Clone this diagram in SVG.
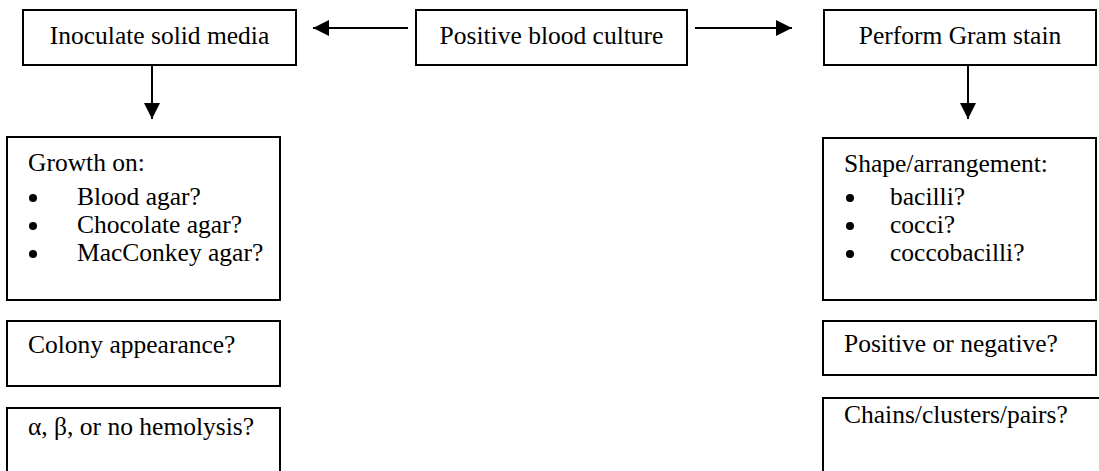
<svg xmlns="http://www.w3.org/2000/svg" width="1099" height="471" viewBox="0 0 1099 471">
<style>
.box{fill:#fff;stroke:#000;stroke-width:2}
.t{font-size:25.5px;fill:#000}
.c{text-anchor:middle}
.conn{stroke:#000;stroke-width:2;fill:none}
</style>
<defs>
<marker id="ah" viewBox="0 0 16 16" refX="16" refY="8" markerWidth="16" markerHeight="16" markerUnits="userSpaceOnUse" orient="auto">
<path d="M0,0 L16,8 L0,16 Z" fill="#000"/>
</marker>
</defs>
<rect width="1099" height="471" fill="#fff"/>
<g id="connectors">
<line class="conn" x1="408" y1="28" x2="313" y2="28" marker-end="url(#ah)"/>
<line class="conn" x1="695" y1="28" x2="792" y2="28" marker-end="url(#ah)"/>
<line class="conn" x1="152" y1="65" x2="152" y2="119" marker-end="url(#ah)"/>
<line class="conn" x1="968" y1="65" x2="968" y2="119" marker-end="url(#ah)"/>
</g>
<g font-family="Liberation Serif, DejaVu Serif, serif">
<g id="n-inoculate">
<rect class="box" x="23" y="10" width="273" height="55"/>
<text class="t c" x="159.5" y="44">Inoculate solid media</text>
</g>
<g id="n-positive">
<rect class="box" x="416" y="10" width="271" height="55"/>
<text class="t c" x="551.5" y="44">Positive blood culture</text>
</g>
<g id="n-gram">
<rect class="box" x="824" y="10" width="272" height="55"/>
<text class="t c" x="960" y="44">Perform Gram stain</text>
</g>
<g id="n-growth">
<rect class="box" x="7" y="137" width="273" height="163"/>
<text class="t" x="28" y="171">Growth on:</text>
<circle cx="33" cy="198" r="4"/>
<text class="t" x="77" y="205">Blood agar?</text>
<circle cx="33" cy="226" r="4"/>
<text class="t" x="77" y="233">Chocolate agar?</text>
<circle cx="33" cy="254" r="4"/>
<text class="t" x="77" y="261">MacConkey agar?</text>
</g>
<g id="n-colony">
<rect class="box" x="7" y="321" width="273" height="65"/>
<text class="t" x="28" y="353">Colony appearance?</text>
</g>
<g id="n-hemolysis">
<rect class="box" x="7" y="408" width="273" height="80"/>
<text class="t" x="28" y="435">α, β, or no hemolysis?</text>
</g>
<g id="n-shape">
<rect class="box" x="823" y="138" width="273" height="162"/>
<text class="t" x="844" y="172">Shape/arrangement:</text>
<circle cx="850" cy="198" r="4"/>
<text class="t" x="890" y="205">bacilli?</text>
<circle cx="850" cy="226" r="4"/>
<text class="t" x="890" y="233">cocci?</text>
<circle cx="850" cy="254" r="4"/>
<text class="t" x="890" y="261">coccobacilli?</text>
</g>
<g id="n-posneg">
<rect class="box" x="823" y="321" width="273" height="54"/>
<text class="t" x="844" y="352">Positive or negative?</text>
</g>
<g id="n-chains">
<rect class="box" x="823" y="398" width="290" height="80"/>
<text class="t" x="844" y="423">Chains/clusters/pairs?</text>
</g>
</g>
</svg>
